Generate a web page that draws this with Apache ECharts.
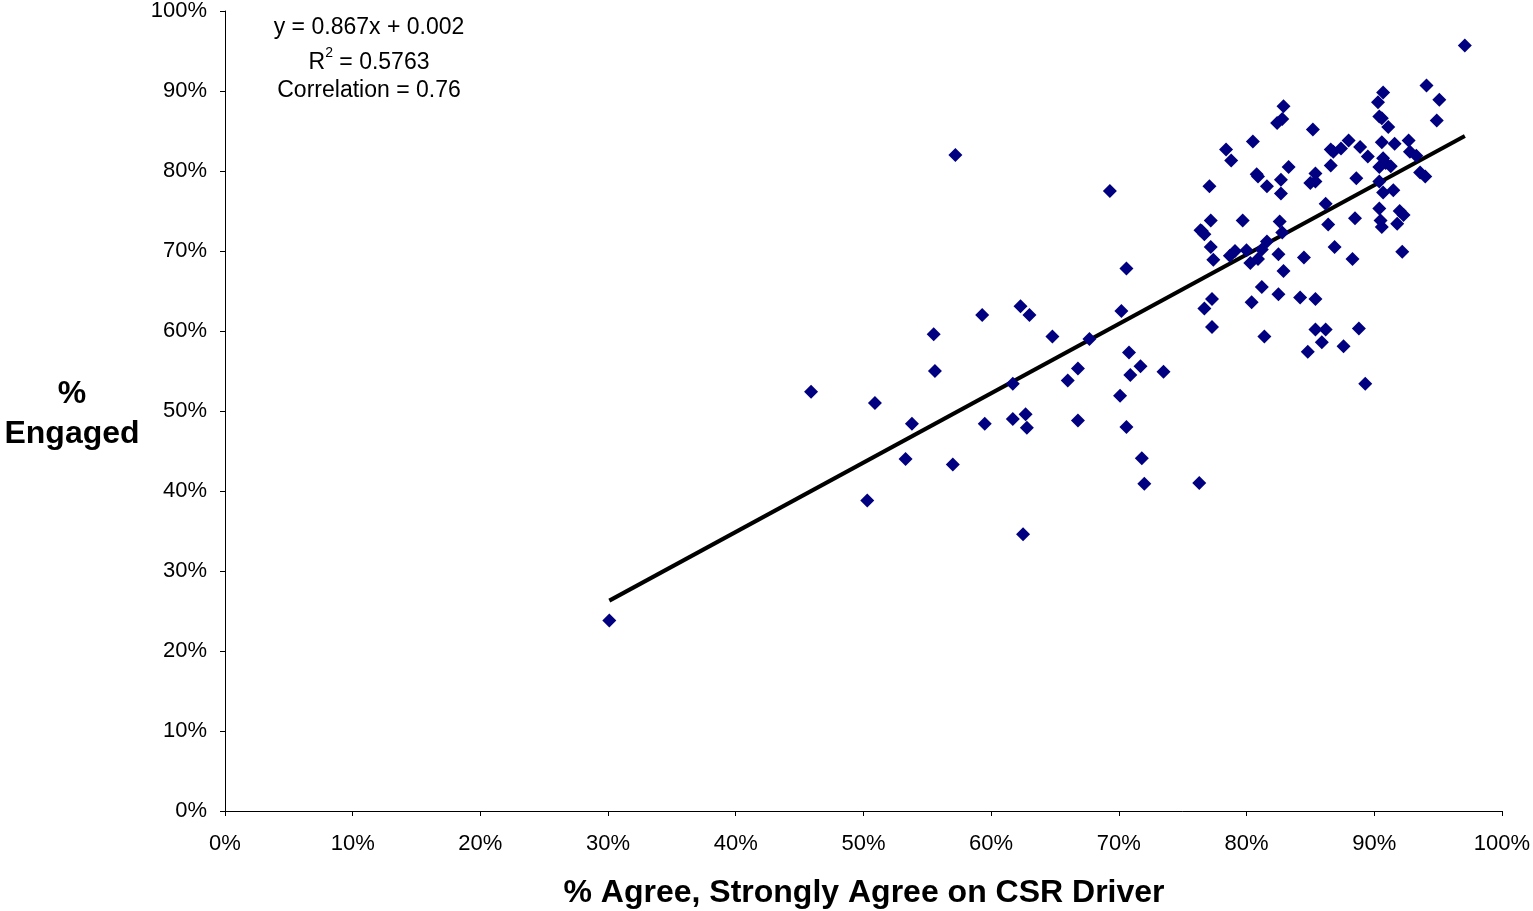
<!DOCTYPE html>
<html>
<head>
<meta charset="utf-8">
<title>CSR Driver vs Engaged</title>
<script src="https://cdn.jsdelivr.net/npm/echarts@6/dist/echarts.min.js"></script>
<style>
  html, body { margin: 0; padding: 0; background: #fff; }
  #chart { width: 1533px; height: 911px; }
</style>
</head>
<body>
<div id="chart"></div>
<script>
// % Agree / Strongly Agree on CSR Driver (x) vs % Engaged (y)
const agree = [
  0.301, 0.459, 0.503, 0.509, 0.533, 0.538, 0.555, 0.556, 0.570, 0.572,
  0.593, 0.595, 0.617, 0.617, 0.623, 0.625, 0.627, 0.628, 0.630, 0.648,
  0.660, 0.668, 0.668, 0.677, 0.693, 0.701, 0.702, 0.706, 0.706, 0.708,
  0.709, 0.717, 0.718, 0.720, 0.735, 0.763,
  0.971, 0.941, 0.951, 0.949, 0.907, 0.903, 0.904, 0.906, 0.911, 0.829,
  0.828, 0.824, 0.852, 0.805, 0.784, 0.788, 0.880, 0.866, 0.868, 0.874,
  0.889, 0.895, 0.906, 0.916, 0.927, 0.928, 0.933, 0.907, 0.904, 0.913,
  0.909, 0.866, 0.833, 0.886, 0.904, 0.936, 0.940, 0.808, 0.809, 0.827,
  0.816, 0.827, 0.771, 0.850, 0.854, 0.854, 0.907, 0.915, 0.862, 0.904,
  0.920, 0.923, 0.772, 0.797, 0.826, 0.764, 0.885, 0.905, 0.906, 0.918,
  0.864, 0.765, 0.767, 0.828, 0.816, 0.772, 0.774, 0.791, 0.787, 0.800,
  0.812, 0.803, 0.809, 0.825, 0.845, 0.869, 0.883, 0.922, 0.829, 0.812,
  0.825, 0.842, 0.854, 0.773, 0.767, 0.804, 0.773, 0.814, 0.854, 0.862,
  0.888, 0.859, 0.876, 0.848, 0.893
];
const engaged = [
  0.238, 0.524, 0.388, 0.510, 0.440, 0.484, 0.596, 0.550, 0.433, 0.820,
  0.620, 0.484, 0.534, 0.490, 0.631, 0.346, 0.496, 0.479, 0.620, 0.593,
  0.538, 0.553, 0.488, 0.590, 0.775, 0.519, 0.625, 0.678, 0.480, 0.573,
  0.545, 0.556, 0.441, 0.409, 0.549, 0.410,
  0.957, 0.907, 0.889, 0.863, 0.898, 0.886, 0.868, 0.866, 0.855, 0.881,
  0.865, 0.860, 0.852, 0.837, 0.827, 0.813, 0.838, 0.827, 0.824, 0.828,
  0.830, 0.818, 0.836, 0.834, 0.838, 0.824, 0.819, 0.816, 0.805, 0.806,
  0.810, 0.807, 0.805, 0.791, 0.787, 0.798, 0.793, 0.796, 0.793, 0.789,
  0.781, 0.772, 0.781, 0.785, 0.787, 0.797, 0.773, 0.776, 0.759, 0.753,
  0.750, 0.745, 0.738, 0.738, 0.737, 0.726, 0.741, 0.738, 0.730, 0.734,
  0.733, 0.725, 0.721, 0.723, 0.712, 0.705, 0.689, 0.700, 0.694, 0.701,
  0.702, 0.685, 0.690, 0.696, 0.692, 0.705, 0.690, 0.699, 0.675, 0.655,
  0.646, 0.642, 0.640, 0.640, 0.628, 0.636, 0.605, 0.593, 0.602, 0.602,
  0.603, 0.586, 0.581, 0.574, 0.534
];
const xTicks = [0, 0.1, 0.2, 0.3, 0.4, 0.5, 0.6, 0.7, 0.8, 0.9, 1.0];
const yTicks = [0, 0.1, 0.2, 0.3, 0.4, 0.5, 0.6, 0.7, 0.8, 0.9, 1.0];
// linear fit as reported on the chart
const slope = 0.867;
const intercept = 0.002;
const rSquared = '0.5763';
const correlation = '0.76';

const FONT = '"Liberation Sans", Arial, sans-serif';

const points = agree.map((x, i) => [x, engaged[i]]);
const xMin = Math.min(...agree);
const xMax = Math.max(...agree);
const trend = [[xMin, slope * xMin + intercept], [xMax, slope * xMax + intercept]];

const pct = v => Math.round(v * 100) + '%';

const chart = echarts.init(document.getElementById('chart'));

chart.setOption({
  backgroundColor: '#fff',
  animation: false,
  grid: { left: 225, right: 31, top: 11, bottom: 100, containLabel: false },
  xAxis: {
    type: 'value',
    min: xTicks[0], max: xTicks[xTicks.length - 1], interval: 0.1,
    axisLine: { show: true, lineStyle: { color: '#000', width: 1 } },
    axisTick: { show: true, length: 5, lineStyle: { color: '#000' } },
    splitLine: { show: false },
    axisLabel: { formatter: pct, color: '#000', fontFamily: FONT, fontSize: 22, margin: 22 }
  },
  yAxis: {
    type: 'value',
    min: yTicks[0], max: yTicks[yTicks.length - 1], interval: 0.1,
    axisLine: { show: true, lineStyle: { color: '#000', width: 1 } },
    axisTick: { show: true, length: 5, lineStyle: { color: '#000' } },
    splitLine: { show: false },
    axisLabel: { formatter: pct, color: '#000', fontFamily: FONT, fontSize: 22, margin: 18 }
  },
  series: [
    {
      type: 'line',
      data: trend,
      symbol: 'none',
      lineStyle: { color: '#000', width: 4 },
      z: 1
    },
    {
      type: 'scatter',
      data: points,
      symbol: 'diamond',
      symbolSize: 14,
      itemStyle: { color: '#000080', opacity: 1 },
      z: 2
    }
  ],
  graphic: [
    {
      type: 'text', x: 369, y: 16,
      style: {
        text: 'y = ' + slope + 'x + ' + intercept.toFixed(3),
        font: '23px ' + FONT, fill: '#000', textAlign: 'center'
      }
    },
    {
      type: 'text', x: 369, y: 46,
      style: {
        text: '{a|R}{s|2}{a| = ' + rSquared + '}',
        textAlign: 'center',
        rich: {
          a: { fontFamily: FONT, fontSize: 23, color: '#000', verticalAlign: 'bottom', lineHeight: 28 },
          s: { fontFamily: FONT, fontSize: 14, color: '#000', verticalAlign: 'top', padding: [0, 0, 12, 0], lineHeight: 28 }
        }
      }
    },
    {
      type: 'text', x: 369, y: 79,
      style: {
        text: 'Correlation = ' + correlation,
        font: '23px ' + FONT, fill: '#000', textAlign: 'center'
      }
    },
    {
      type: 'text', x: 72, y: 374,
      style: {
        text: '%\nEngaged',
        font: 'bold 32px ' + FONT, fill: '#000', textAlign: 'center', lineHeight: 40
      }
    },
    {
      type: 'text', x: 864, y: 877,
      style: {
        text: '% Agree, Strongly Agree on CSR Driver',
        font: 'bold 32px ' + FONT, fill: '#000', textAlign: 'center'
      }
    }
  ]
});

window.addEventListener('resize', () => chart.resize());
</script>
</body>
</html>
